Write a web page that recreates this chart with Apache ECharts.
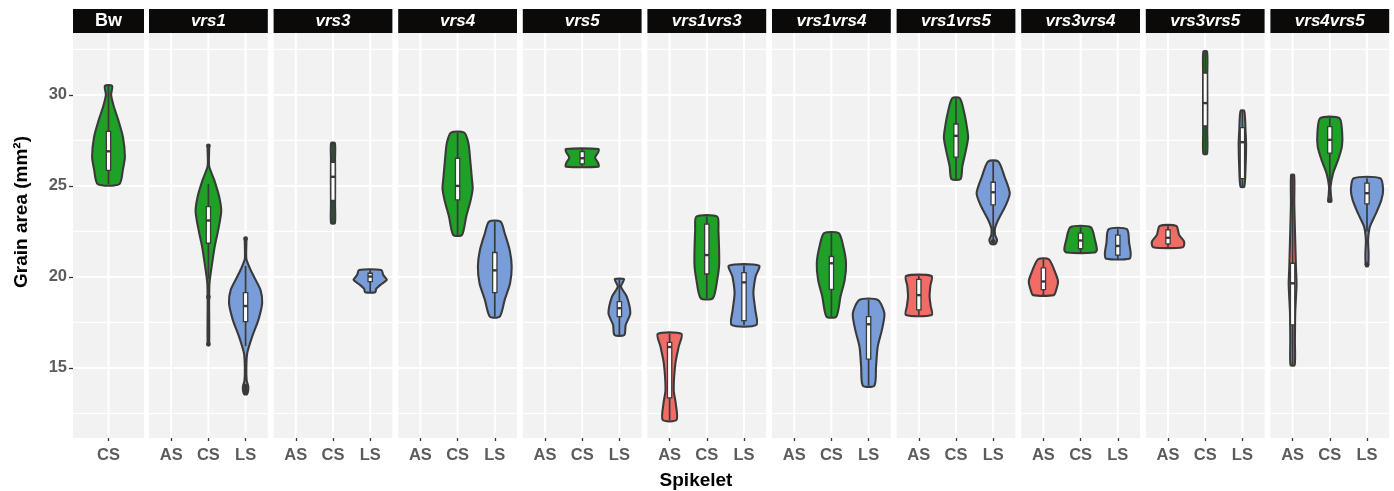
<!DOCTYPE html>
<html><head><meta charset="utf-8">
<script src="https://cdn.jsdelivr.net/npm/echarts@6/dist/echarts.min.js"></script>
<style>html,body{margin:0;padding:0;background:#fff}#c{width:1394px;height:491px}</style>
</head><body><div id="c"></div>
<script>
// ---------------- DATA ----------------
const panels = ['Bw','vrs1','vrs3','vrs4','vrs5','vrs1vrs3','vrs1vrs4','vrs1vrs5','vrs3vrs4','vrs3vrs5','vrs4vrs5'];
const panelCategories = [['CS'],['AS','CS','LS'],['AS','CS','LS'],['AS','CS','LS'],['AS','CS','LS'],['AS','CS','LS'],['AS','CS','LS'],['AS','CS','LS'],['AS','CS','LS'],['AS','CS','LS'],['AS','CS','LS']];
const yTickValues = [15, 20, 25, 30];
const yMinorValues = [12.5, 17.5, 22.5, 27.5, 32.5];
const yRange = [11.15, 33.4];
const spikeletColors = { AS: '#F06C65', CS: '#1FA027', LS: '#789DD9' };

// violin outlines: [grain area, half width in category units]; box: [lower whisker, q1, median, q3, upper whisker]
const Bw_CS = [[30.5,0.097],[30.0,0.07],[29.36,0.143],[28.6,0.266],[27.7,0.387],[26.6,0.441],[25.9,0.387],[25.1,0.29]];
const Bw_CS_box = [25.1, 25.85, 26.9, 28.0, 30.5];
const vrs1_CS = [[27.2,0.02],[26.1,0.02],[25.33,0.156],[24.4,0.29],[23.6,0.344],[22.6,0.266],[21.66,0.169],[20.77,0.102],[19.67,0.03],[18.6,0.02],[16.3,0.02]];
const vrs1_CS_box = [19.9, 21.85, 23.1, 23.86, 25.1];
const vrs1_CS_out = [27.2, 18.9, 16.3];
const vrs1_LS = [[22.13,0.02],[21.0,0.02],[20.5,0.11],[20.02,0.223],[19.29,0.4],[18.57,0.446],[17.64,0.344],[16.72,0.177],[15.8,0.043],[15.0,0.02],[14.3,0.03],[14.0,0.07],[13.75,0.07],[13.56,0.04]];
const vrs1_LS_box = [16.2, 17.54, 18.4, 19.14, 20.6];
const vrs1_LS_out = [22.1, 14.0, 13.8, 13.65];
const vrs3_CS = [[27.35,0.05],[26.5,0.055],[25.3,0.058],[24.0,0.055],[22.95,0.05]];
const vrs3_CS_box = [22.95, 24.2, 25.5, 26.3, 27.35];
const vrs3_LS = [[20.38,0.298],[20.1,0.352],[19.84,0.446],[19.6,0.298],[19.35,0.164],[19.16,0.137]];
const vrs3_LS_box = [19.16, 19.74, 20.02, 20.2, 20.38];
const vrs4_CS = [[27.93,0.177],[27.35,0.29],[26.43,0.339],[25.33,0.387],[24.87,0.406],[24.23,0.352],[23.31,0.231],[22.31,0.118]];
const vrs4_CS_box = [22.31, 24.23, 25.0, 26.52, 27.93];
const vrs4_LS = [[23.04,0.156],[22.4,0.266],[21.48,0.4],[20.57,0.454],[19.65,0.411],[18.74,0.266],[17.82,0.132]];
const vrs4_LS_box = [17.82, 19.14, 20.36, 21.34, 23.04];
const vrs5_CS = [[27.03,0.438],[26.85,0.43],[26.56,0.347],[26.25,0.43],[26.06,0.438]];
const vrs5_CS_box = [26.06, 26.21, 26.52, 26.88, 27.03];
const vrs5_LS = [[19.87,0.124],[19.47,0.043],[18.92,0.199],[18.0,0.293],[17.36,0.169],[16.81,0.132]];
const vrs5_LS_box = [16.81, 17.82, 18.28, 18.64, 19.87];
const vrs1vrs3_AS = [[16.87,0.32],[16.17,0.245],[15.26,0.156],[13.79,0.11],[13.06,0.164],[12.14,0.186]];
const vrs1vrs3_AS_box = [12.14, 13.35, 16.15, 16.4, 16.87];
const vrs1vrs3_CS = [[23.31,0.28],[22.58,0.312],[20.75,0.333],[19.84,0.28],[18.83,0.164]];
const vrs1vrs3_CS_box = [18.83, 20.16, 21.2, 22.9, 23.31];
const vrs1vrs3_LS = [[20.62,0.406],[20.02,0.312],[19.1,0.253],[18.19,0.304],[17.36,0.333]];
const vrs1vrs3_LS_box = [17.36, 17.6, 19.7, 20.24, 20.62];
const vrs1vrs4_CS = [[22.4,0.196],[21.67,0.32],[20.75,0.393],[19.84,0.358],[18.92,0.245],[17.82,0.132]];
const vrs1vrs4_CS_box = [17.82, 19.32, 20.75, 21.12, 22.4];
const vrs1vrs4_LS = [[18.74,0.245],[18.0,0.425],[17.09,0.358],[16.17,0.245],[15.07,0.2],[14.03,0.156]];
const vrs1vrs4_LS_box = [14.03, 15.48, 17.4, 17.82, 18.74];
const vrs1vrs5_AS = [[20.05,0.344],[19.5,0.31],[18.92,0.29],[18.4,0.32],[17.91,0.347]];
const vrs1vrs5_AS_box = [17.91, 18.19, 19.0, 19.87, 20.05];
const vrs1vrs5_CS = [[29.82,0.102],[29.0,0.223],[28.08,0.304],[27.62,0.325],[26.8,0.25],[26.06,0.169],[25.38,0.124]];
const vrs1vrs5_CS_box = [25.38, 26.58, 27.75, 28.4, 29.82];
const vrs1vrs5_LS = [[26.34,0.137],[25.51,0.304],[24.6,0.446],[23.96,0.344],[23.13,0.132],[22.67,0.048],[22.3,0.05],[22.03,0.102],[21.81,0.06]];
const vrs1vrs5_LS_box = [22.0, 23.96, 24.65, 25.2, 26.34];
const vrs1vrs5_LS_out = [21.95];
const vrs3vrs4_AS = [[20.97,0.145],[20.2,0.325],[19.74,0.393],[19.29,0.344],[19.0,0.277]];
const vrs3vrs4_AS_box = [19.0, 19.3, 19.75, 20.5, 20.97];
const vrs3vrs4_CS = [[22.73,0.272],[22.03,0.387],[21.48,0.438],[21.34,0.379]];
const vrs3vrs4_CS_box = [21.34, 21.55, 22.0, 22.4, 22.73];
const vrs3vrs4_LS = [[22.62,0.245],[21.85,0.306],[21.3,0.347],[21.0,0.312]];
const vrs3vrs4_LS_box = [21.0, 21.2, 21.7, 22.3, 22.62];
const vrs3vrs5_AS = [[22.8,0.223],[22.31,0.298],[21.94,0.433],[21.63,0.4]];
const vrs3vrs5_AS_box = [21.63, 21.81, 22.15, 22.58, 22.8];
const vrs3vrs5_CS = [[32.38,0.05],[31.0,0.055],[29.5,0.058],[28.0,0.055],[26.76,0.05]];
const vrs3vrs5_CS_box = [26.76, 28.3, 29.55, 31.2, 32.38];
const vrs3vrs5_LS = [[29.12,0.05],[28.0,0.085],[27.3,0.1],[26.0,0.085],[24.96,0.05]];
const vrs3vrs5_LS_box = [24.96, 25.4, 27.4, 28.2, 29.12];
const vrs4vrs5_AS = [[25.6,0.04],[24.0,0.045],[22.0,0.07],[20.5,0.09],[19.6,0.105],[18.0,0.07],[16.5,0.062],[15.16,0.055]];
const vrs4vrs5_AS_box = [15.16, 17.36, 19.65, 20.75, 25.6];
const vrs4vrs5_CS = [[28.72,0.258],[27.9,0.333],[27.16,0.325],[26.43,0.223],[25.7,0.089],[24.96,0.02],[24.5,0.03],[24.14,0.043]];
const vrs4vrs5_CS_box = [25.0, 26.8, 27.53, 28.26, 28.72];
const vrs4vrs5_CS_out = [24.2];
const vrs4vrs5_LS = [[25.42,0.358],[24.78,0.433],[24.23,0.387],[23.5,0.245],[22.76,0.078],[22.03,0.03],[21.3,0.043],[20.6,0.03]];
const vrs4vrs5_LS_box = [22.5, 24.01, 24.6, 25.15, 25.42];
const vrs4vrs5_LS_out = [20.7];

const violins = [
  ['Bw','CS',Bw_CS,Bw_CS_box,[]],
  ['vrs1','CS',vrs1_CS,vrs1_CS_box,vrs1_CS_out],
  ['vrs1','LS',vrs1_LS,vrs1_LS_box,vrs1_LS_out],
  ['vrs3','CS',vrs3_CS,vrs3_CS_box,[]],
  ['vrs3','LS',vrs3_LS,vrs3_LS_box,[]],
  ['vrs4','CS',vrs4_CS,vrs4_CS_box,[]],
  ['vrs4','LS',vrs4_LS,vrs4_LS_box,[]],
  ['vrs5','CS',vrs5_CS,vrs5_CS_box,[]],
  ['vrs5','LS',vrs5_LS,vrs5_LS_box,[]],
  ['vrs1vrs3','AS',vrs1vrs3_AS,vrs1vrs3_AS_box,[]],
  ['vrs1vrs3','CS',vrs1vrs3_CS,vrs1vrs3_CS_box,[]],
  ['vrs1vrs3','LS',vrs1vrs3_LS,vrs1vrs3_LS_box,[]],
  ['vrs1vrs4','CS',vrs1vrs4_CS,vrs1vrs4_CS_box,[]],
  ['vrs1vrs4','LS',vrs1vrs4_LS,vrs1vrs4_LS_box,[]],
  ['vrs1vrs5','AS',vrs1vrs5_AS,vrs1vrs5_AS_box,[]],
  ['vrs1vrs5','CS',vrs1vrs5_CS,vrs1vrs5_CS_box,[]],
  ['vrs1vrs5','LS',vrs1vrs5_LS,vrs1vrs5_LS_box,vrs1vrs5_LS_out],
  ['vrs3vrs4','AS',vrs3vrs4_AS,vrs3vrs4_AS_box,[]],
  ['vrs3vrs4','CS',vrs3vrs4_CS,vrs3vrs4_CS_box,[]],
  ['vrs3vrs4','LS',vrs3vrs4_LS,vrs3vrs4_LS_box,[]],
  ['vrs3vrs5','AS',vrs3vrs5_AS,vrs3vrs5_AS_box,[]],
  ['vrs3vrs5','CS',vrs3vrs5_CS,vrs3vrs5_CS_box,[]],
  ['vrs3vrs5','LS',vrs3vrs5_LS,vrs3vrs5_LS_box,[]],
  ['vrs4vrs5','AS',vrs4vrs5_AS,vrs4vrs5_AS_box,[]],
  ['vrs4vrs5','CS',vrs4vrs5_CS,vrs4vrs5_CS_box,vrs4vrs5_CS_out],
  ['vrs4vrs5','LS',vrs4vrs5_LS,vrs4vrs5_LS_box,vrs4vrs5_LS_out]
];

// ---------------- LAYOUT ----------------
const FONT = '"Liberation Sans", Arial, Helvetica, sans-serif';
const plotTop = 33, plotH = 405, stripTop = 9, stripH = 24;
const pxPerCat = 37.19;
const panelLeft = [], panelWidth = [];
panels.forEach((p, i) => {
  if (i === 0) { panelLeft.push(73); panelWidth.push(71); }
  else { panelLeft.push(149 + (i - 1) * 124.6); panelWidth.push(118.8); }
});
const OUTLINE = '#3a3a3a';

const grids = [], xAxes = [], yAxes = [], series = [], graphics = [];

panels.forEach((p, gi) => {
  const cats = panelCategories[gi];
  const half = panelWidth[gi] / pxPerCat / 2;
  const mid = (cats.length + 1) / 2;
  grids.push({ left: panelLeft[gi], top: plotTop, width: panelWidth[gi], height: plotH,
    show: true, backgroundColor: '#F2F2F2', borderWidth: 0, containLabel: false });
  const catVals = cats.map((c, k) => k + 1);
  xAxes.push({ type: 'value', gridIndex: gi, min: mid - half, max: mid + half,
    axisLine: { show: false }, splitLine: { show: false },
    axisTick: { show: true, customValues: catVals, length: 3, lineStyle: { color: '#333', width: 1.3 } },
    axisLabel: { show: true, customValues: catVals, margin: 9, color: '#5C5C5C', fontWeight: 'bold', fontSize: 16.5, fontFamily: FONT,
      formatter: v => cats[Math.round(v) - 1] || '' } });
  yAxes.push({ type: 'value', gridIndex: gi, min: yRange[0], max: yRange[1],
    axisLine: { show: false }, splitLine: { show: false },
    axisTick: { show: gi === 0, customValues: yTickValues, length: 4, lineStyle: { color: '#333', width: 1.3 } },
    axisLabel: { show: gi === 0, customValues: yTickValues, margin: 6, color: '#5C5C5C', fontWeight: 'bold', fontSize: 16.5, fontFamily: FONT } });

  // gridlines (through the axes' scales)
  series.push({ type: 'custom', xAxisIndex: gi, yAxisIndex: gi, z: 1, silent: true, clip: false,
    data: [[mid, 20]],
    renderItem: (params, api) => {
      const cs = params.coordSys;
      const children = [];
      yMinorValues.forEach(v => { const y = api.coord([mid, v])[1];
        children.push({ type: 'line', shape: { x1: cs.x, y1: y, x2: cs.x + cs.width, y2: y }, style: { stroke: '#FFFFFF', lineWidth: 1.1 } }); });
      yTickValues.forEach(v => { const y = api.coord([mid, v])[1];
        children.push({ type: 'line', shape: { x1: cs.x, y1: y, x2: cs.x + cs.width, y2: y }, style: { stroke: '#FFFFFF', lineWidth: 2 } }); });
      catVals.forEach(c => { const x = api.coord([c, 20])[0];
        children.push({ type: 'line', shape: { x1: x, y1: cs.y, x2: x, y2: cs.y + cs.height }, style: { stroke: '#FFFFFF', lineWidth: 2 } }); });
      return { type: 'group', children };
    } });

  const pv = violins.filter(v => v[0] === p);
  series.push({ type: 'custom', xAxisIndex: gi, yAxisIndex: gi, z: 2, silent: true, clip: false,
    data: pv.map(v => [cats.indexOf(v[1]) + 1, v[3][2]]),
    encode: { x: 0, y: 1 },
    renderItem: (params, api) => {
      const v = pv[params.dataIndex];
      const xc = cats.indexOf(v[1]) + 1;
      const prof = v[2].slice().sort((a, b) => b[0] - a[0]);
      const pts = [];
      prof.forEach(q => pts.push(api.coord([xc + q[1], q[0]])));
      prof.slice().reverse().forEach(q => pts.push(api.coord([xc - q[1], q[0]])));
      const st = v[3];
      const bw = 0.058;
      const b1 = api.coord([xc - bw, st[3]]), b2 = api.coord([xc + bw, st[1]]);
      const w1 = api.coord([xc, st[0]]), w2 = api.coord([xc, st[4]]);
      const m1 = api.coord([xc - bw, st[2]]), m2 = api.coord([xc + bw, st[2]]);
      const children = [
        { type: 'polygon', shape: { points: pts, smooth: 0.25 },
          style: { fill: spikeletColors[v[1]], stroke: OUTLINE, lineWidth: 2.1, lineJoin: 'round' } },
        { type: 'line', shape: { x1: w1[0], y1: w1[1], x2: w2[0], y2: w2[1] }, style: { stroke: OUTLINE, lineWidth: 1.7 } },
        { type: 'rect', shape: { x: b1[0], y: b1[1], width: b2[0] - b1[0], height: b2[1] - b1[1] },
          style: { fill: '#FFFFFF', stroke: OUTLINE, lineWidth: 1.3 } },
        { type: 'line', shape: { x1: m1[0], y1: m1[1], x2: m2[0], y2: m2[1] }, style: { stroke: OUTLINE, lineWidth: 2.4 } }
      ];
      v[4].forEach(o => { const c = api.coord([xc, o]);
        children.push({ type: 'circle', shape: { cx: c[0], cy: c[1], r: 2.4 }, style: { fill: OUTLINE } }); });
      return { type: 'group', children };
    } });

  // facet strip
  graphics.push({ type: 'rect', left: panelLeft[gi], top: stripTop, shape: { width: panelWidth[gi], height: stripH },
    style: { fill: '#0B0A08' }, silent: true });
  graphics.push({ type: 'text', x: panelLeft[gi] + panelWidth[gi] / 2, y: stripTop + stripH / 2,
    style: { text: p, fill: '#FFFFFF', font: (gi === 0 ? 'bold 18px ' : 'italic bold 17px ') + FONT, align: 'center', verticalAlign: 'middle' }, silent: true });
});

graphics.push({ type: 'text', x: 22, y: 212, rotation: Math.PI / 2,
  style: { text: 'Grain area (mm²)', fill: '#000', font: 'bold 19px ' + FONT, align: 'center', verticalAlign: 'middle' }, silent: true });
graphics.push({ type: 'text', x: 696, y: 481,
  style: { text: 'Spikelet', fill: '#000', font: 'bold 19px ' + FONT, align: 'center', verticalAlign: 'middle' }, silent: true });

const chart = echarts.init(document.getElementById('c'), null, { renderer: 'canvas' });
chart.setOption({
  backgroundColor: '#FFFFFF',
  animation: false,
  grid: grids, xAxis: xAxes, yAxis: yAxes, series: series, graphic: graphics
});
</script></body></html>
